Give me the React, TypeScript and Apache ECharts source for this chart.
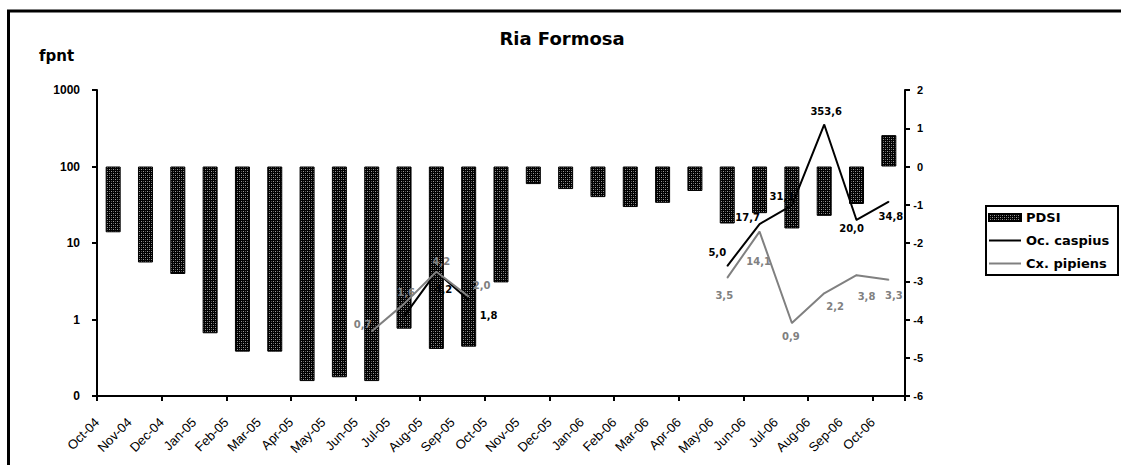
import React, { useEffect, useRef } from 'react';
import * as echarts from 'echarts';

const months = ['Oct-04','Nov-04','Dec-04','Jan-05','Feb-05','Mar-05','Apr-05','May-05','Jun-05','Jul-05','Aug-05','Sep-05','Oct-05','Nov-05','Dec-05','Jan-06','Feb-06','Mar-06','Apr-06','May-06','Jun-06','Jul-06','Aug-06','Sep-06','Oct-06'];
const pdsi = [-1.72,-2.51,-2.81,-4.36,-4.84,-4.84,-5.61,-5.51,-5.61,-4.24,-4.77,-4.71,-3.03,-0.46,-0.59,-0.8,-1.06,-0.95,-0.64,-1.49,-1.22,-1.62,-1.29,-0.98,0.82];
const ocCaspius = [null,null,null,null,null,null,null,null,null,1.1,4.2,1.8,null,null,null,null,null,null,null,5.0,17.7,31.1,353.6,20.0,34.8];
const cxPipiens = [null,null,null,null,null,null,null,null,0.7,1.6,4.2,2.0,null,null,null,null,null,null,null,3.5,14.1,0.9,2.2,3.8,3.3];
const leftTicks = [0.1, 1, 10, 100, 1000];

// label offsets (style only)
const caspiusOffsets: Record<number, [number, number] | null> = {
  9: null, 10: [7, 18], 11: [20, 16], 19: [-10, -14], 20: [-12, -7], 21: [-10, -9], 22: [2, -13], 23: [-5, 9], 24: [2, 15],
};
const pipiensOffsets: Record<number, [number, number]> = {
  8: [-9, -7], 9: [2, -11], 10: [5, -10], 11: [13, -11], 19: [-3, 18], 20: [-1, 30], 21: [-1, 13], 22: [11, 13], 23: [10, 21], 24: [5, 16],
};

function makePattern() {
  const c = document.createElement('canvas');
  c.width = 4; c.height = 4;
  const ctx = c.getContext('2d')!;
  ctx.fillStyle = '#000';
  ctx.fillRect(0, 0, 4, 4);
  ctx.fillStyle = '#9a9a9a';
  ctx.fillRect(1, 1, 1, 1);
  ctx.fillRect(3, 3, 1, 1);
  ctx.fillStyle = '#555';
  ctx.fillRect(1, 3, 1, 1);
  ctx.fillRect(3, 1, 1, 1);
  return c;
}

const fmt = (v: number) => v.toFixed(1).replace('.', ',');

export default function App() {
  const ref = useRef<HTMLDivElement>(null);
  useEffect(() => {
    if (!ref.current) return;
    const chart = echarts.init(ref.current, null, { renderer: 'svg' });
    const pattern = { image: makePattern(), repeat: 'repeat' };
    const lineData = (vals: (number | null)[], offs: Record<number, any>, color: string) =>
      vals.map((v, i) => {
        if (v == null) return '-';
        const o = offs[i];
        if (o === null || o === undefined) return { value: v, label: { show: false } };
        return { value: v, label: { show: true, offset: o, color } };
      });
    const labelBase = {
      show: true,
      position: 'inside',
      fontFamily: 'DejaVu Sans',
      fontWeight: 'bold',
      fontSize: 10,
      textBorderWidth: 0,
      formatter: (p: any) => fmt(p.value),
    };
    const option: any = {
      animation: false,
      backgroundColor: '#fff',
      graphic: [
        { type: 'rect', silent: true, shape: { x: 8.5, y: 11, width: 1200, height: 600 }, style: { fill: 'none', stroke: '#000', lineWidth: 3 } },
        { type: 'text', x: 562, y: 38.5, style: { text: 'Ria Formosa', font: 'bold 18px "DejaVu Sans"', fill: '#000', align: 'center', verticalAlign: 'middle' } },
        { type: 'text', x: 39, y: 55.5, style: { text: 'fpnt', font: 'bold 15px "DejaVu Sans"', fill: '#000', align: 'left', verticalAlign: 'middle' } },
        { type: 'rect', silent: true, shape: { x: 986, y: 206, width: 132, height: 69 }, style: { fill: '#fff', stroke: '#000', lineWidth: 2 }, z: 0 },
      ],
      legend: {
        orient: 'vertical',
        left: 988,
        top: 210,
        padding: 0,
        itemWidth: 32,
        itemHeight: 7,
        itemGap: 8,
        selectedMode: false,
        z: 5,
        textStyle: { fontFamily: 'DejaVu Sans', fontWeight: 'bold', fontSize: 13, color: '#000', lineHeight: 15 },
        data: [
          { name: 'PDSI', icon: 'rect' },
          { name: 'Oc. caspius', icon: 'path://M0,0H32V2H0Z' },
          { name: 'Cx. pipiens', icon: 'path://M0,0H32V2H0Z' },
        ],
      },
      grid: { left: 97, right: 216, top: 90, bottom: 69, containLabel: false },
      xAxis: [
        {
          type: 'category',
          data: months,
          position: 'bottom',
          boundaryGap: true,
          axisLine: { onZero: false, lineStyle: { color: '#000', width: 2 } },
          axisTick: { show: true, length: 5, lineStyle: { color: '#000', width: 2 } },
          axisLabel: { show: false },
          splitLine: { show: false },
        },
        {
          type: 'category',
          data: [...months, ''],
          position: 'bottom',
          boundaryGap: false,
          axisLine: { show: false, onZero: false },
          axisTick: { show: false },
          axisLabel: {
            show: true, interval: 0, rotate: 45, margin: 24,
            fontFamily: 'Liberation Sans', fontSize: 13, color: '#000',
          },
          splitLine: { show: false },
        },
      ],
      yAxis: [
        {
          type: 'log',
          logBase: 10,
          min: leftTicks[0],
          max: leftTicks[leftTicks.length - 1],
          position: 'left',
          axisLine: { show: true, lineStyle: { color: '#000', width: 2 } },
          axisTick: { show: true, length: 5, lineStyle: { color: '#000', width: 2 } },
          minorTick: { show: false },
          splitLine: { show: false },
          axisLabel: {
            margin: 17, fontFamily: 'Liberation Sans', fontWeight: 'bold', fontSize: 12, color: '#000',
            formatter: (v: number) => (v < 1 ? '0' : String(Math.round(v))),
          },
        },
        {
          type: 'value',
          min: -6,
          max: 2,
          interval: 1,
          position: 'right',
          axisLine: { show: true, lineStyle: { color: '#000', width: 2 } },
          axisTick: { show: true, length: 5, lineStyle: { color: '#000', width: 2 } },
          splitLine: { show: false },
          axisLabel: {
            margin: 18, align: 'right', fontFamily: 'Liberation Sans', fontWeight: 'bold', fontSize: 11, color: '#000',
          },
        },
      ],
      series: [
        {
          name: 'PDSI',
          type: 'bar',
          xAxisIndex: 0,
          yAxisIndex: 1,
          data: pdsi,
          barWidth: 15,
          itemStyle: { color: pattern, borderColor: '#000', borderWidth: 1 },
          z: 2,
        },
        {
          name: 'Oc. caspius',
          type: 'line',
          xAxisIndex: 0,
          yAxisIndex: 0,
          data: lineData(ocCaspius, caspiusOffsets, '#000'),
          symbol: 'circle',
          symbolSize: 1,
          showSymbol: true,
          connectNulls: false,
          lineStyle: { color: '#000', width: 2 },
          itemStyle: { color: '#000' },
          label: { ...labelBase, color: '#000' },
          z: 3,
        },
        {
          name: 'Cx. pipiens',
          type: 'line',
          xAxisIndex: 0,
          yAxisIndex: 0,
          data: lineData(cxPipiens, pipiensOffsets, '#808080'),
          symbol: 'circle',
          symbolSize: 1,
          showSymbol: true,
          connectNulls: false,
          lineStyle: { color: '#808080', width: 2 },
          itemStyle: { color: '#808080' },
          label: { ...labelBase, color: '#808080' },
          z: 4,
        },
      ],
    };
    chart.setOption(option);
    return () => chart.dispose();
  }, []);
  return <div ref={ref} style={{ position: 'fixed', left: 0, top: 0, width: 1121, height: 465, background: '#fff' }} />;
}
